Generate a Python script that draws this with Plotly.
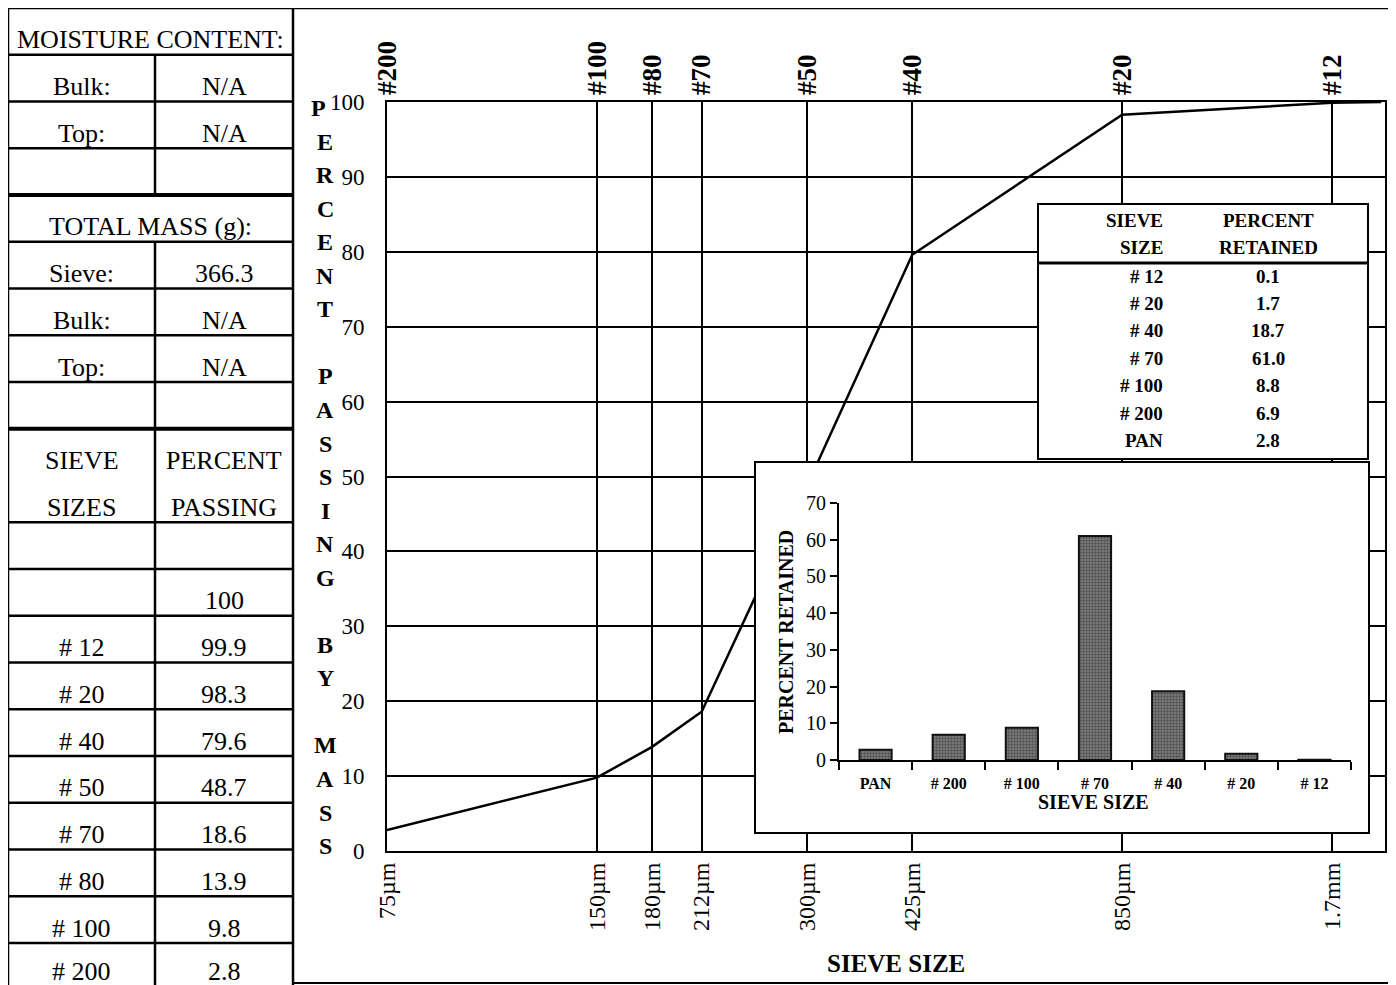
import math
import plotly.graph_objects as go

W, H = 1396, 985
OFF = 8  # the page body margin shifts the graph div by this many pixels


def fx(p):
    return (p - OFF) / W


def fy(p):
    return 1 - (p - OFF) / H


SERIF = "Liberation Serif, Times New Roman, serif"

# ---------------- data ----------------
sieve_sizes_um = [75, 150, 180, 212, 300, 425, 850, 1700]
size_labels = ["75µm", "150µm", "180µm", "212µm", "300µm", "425µm", "850µm", "1.7mm"]
sieve_numbers_top = ["#200", "#100", "#80", "#70", "#50", "#40", "#20", "#12"]
percent_passing_curve = [2.8, 9.8, 13.9, 18.6, 48.7, 79.6, 98.3, 99.9]
upper_size_um = 2000
upper_passing = 100

table_sieves = ["# 12", "# 20", "# 40", "# 50", "# 70", "# 80", "# 100", "# 200"]
table_passing = ["99.9", "98.3", "79.6", "48.7", "18.6", "13.9", "9.8", "2.8"]
total_mass_sieve = "366.3"

retained_sieves = ["# 12", "# 20", "# 40", "# 70", "# 100", "# 200", "PAN"]
percent_retained = [0.1, 1.7, 18.7, 61.0, 8.8, 6.9, 2.8]

y_title = "PERCENT PASSING BY MASS"

# ---------------- figure ----------------
fig = go.Figure()

curve_x = sieve_sizes_um + [upper_size_um]
curve_y = percent_passing_curve + [upper_passing]
fig.add_trace(go.Scatter(x=curve_x, y=curve_y, mode="lines",
                         line=dict(color="black", width=2.5),
                         xaxis="x", yaxis="y", hoverinfo="skip", showlegend=False))
# invisible trace to carry the top (sieve number) axis
fig.add_trace(go.Scatter(x=curve_x, y=curve_y, mode="lines", opacity=0,
                         line=dict(width=0), xaxis="x2", yaxis="y",
                         hoverinfo="skip", showlegend=False))
# empty traces to create the two white inset panels (table box, bar-chart box)
for ax in ("3", "4"):
    fig.add_trace(go.Scatter(x=[None], y=[None], mode="markers", xaxis="x" + ax,
                             yaxis="y" + ax, hoverinfo="skip", showlegend=False))

bar_x = list(reversed(retained_sieves))
bar_y = list(reversed(percent_retained))
fig.add_trace(go.Bar(x=bar_x, y=bar_y, xaxis="x5", yaxis="y5", width=0.44,
                     marker=dict(color="#5e5e5e",
                                 line=dict(color="#111111", width=2),
                                 pattern=dict(shape=".", fgcolor="#222222",
                                              bgcolor="#808080", size=3, solidity=0.5)),
                     hoverinfo="skip", showlegend=False))

xrange_log = [math.log10(75), math.log10(2025)]
black = "black"

box_axis = dict(range=[0, 1], showline=True, mirror=True, linecolor=black, linewidth=2,
                showgrid=False, zeroline=False, showticklabels=False, ticks="",
                fixedrange=True, automargin=False)

fig.update_layout(
    width=W, height=H,
    margin=dict(l=0, r=0, t=0, b=0, pad=0, autoexpand=False),
    paper_bgcolor="white", plot_bgcolor="white", showlegend=False,
    font=dict(family=SERIF, color=black),
    xaxis=dict(domain=[fx(387), fx(1385)], anchor="y", type="log", range=xrange_log,
               tickmode="array", tickvals=sieve_sizes_um, ticktext=size_labels,
               tickangle=-90, showgrid=True, gridcolor=black, gridwidth=1.5,
               showline=True, linecolor=black, linewidth=2, mirror=True, ticks="",
               zeroline=False, automargin=False,
               tickfont=dict(family=SERIF, size=24, color=black)),
    xaxis2=dict(overlaying="x", side="top", anchor="y", type="log", range=xrange_log,
                tickmode="array", tickvals=sieve_sizes_um, ticktext=sieve_numbers_top,
                tickangle=-90, showgrid=False, ticks="", showline=False, zeroline=False,
                automargin=False, ticklabelstandoff=6,
                tickfont=dict(family=SERIF, size=27, color=black, weight="bold")),
    yaxis=dict(domain=[fy(851), fy(102)], anchor="x", range=[0, 100], dtick=10, tick0=0,
               showgrid=True, gridcolor=black, gridwidth=1.5, showline=True,
               linecolor=black, linewidth=2, mirror=True, ticks="", zeroline=False,
               automargin=False, ticklabelstandoff=16,
               tickfont=dict(family=SERIF, size=23, color=black)),
    xaxis3=dict(domain=[fx(1039), fx(1367)], anchor="y3", **box_axis),
    yaxis3=dict(domain=[fy(458), fy(205)], anchor="x3", **box_axis),
    xaxis4=dict(domain=[fx(756), fx(1368)], anchor="y4", **box_axis),
    yaxis4=dict(domain=[fy(832), fy(463)], anchor="x4", **box_axis),
    xaxis5=dict(domain=[fx(839), fx(1351)], anchor="y5", type="category",
                showline=True, linecolor=black, linewidth=2, showgrid=False,
                ticks="outside", tickson="boundaries", ticklen=8, tickwidth=2,
                tickcolor=black, ticklabelstandoff=8, zeroline=False, automargin=False,
                tickfont=dict(family=SERIF, size=16, color=black, weight="bold")),
    yaxis5=dict(domain=[fy(760), fy(503)], anchor="x5", range=[0, 70], dtick=10,
                showline=True, linecolor=black, linewidth=2, showgrid=False,
                ticks="outside", ticklen=7, tickwidth=2, tickcolor=black,
                zeroline=False, automargin=False,
                tickfont=dict(family=SERIF, size=20, color=black)),
)

shapes = []
ann = []


def hline(x0, x1, y, w=2.5):
    shapes.append(dict(type="line", xref="paper", yref="paper", x0=fx(x0), x1=fx(x1),
                       y0=fy(y), y1=fy(y), line=dict(color=black, width=w), layer="above"))


def vline(x, y0, y1, w=2.5):
    shapes.append(dict(type="line", xref="paper", yref="paper", x0=fx(x), x1=fx(x),
                       y0=fy(y0), y1=fy(y1), line=dict(color=black, width=w), layer="above"))


def text(x, y, s, size, bold=False, xanchor="center", angle=0):
    ann.append(dict(x=fx(x), y=fy(y), xref="paper", yref="paper", text=s, showarrow=False,
                    xanchor=xanchor, yanchor="middle", textangle=angle,
                    font=dict(family=SERIF, size=size, color=black,
                              weight="bold" if bold else "normal")))


# ---------------- outer frame of chart ----------------
hline(293, 1394, 8, 2.5)
vline(1394, 8, 983, 2.5)
hline(293, 1394, 983, 2)

# ---------------- left table ----------------
TL, TM, TR = 8, 155, 293
top, rh = 8, 46.75
rows = ([("MOISTURE CONTENT:", None), ("Bulk:", "N/A"), ("Top:", "N/A"), ("", ""),
         ("TOTAL MASS (g):", None), ("Sieve:", total_mass_sieve), ("Bulk:", "N/A"),
         ("Top:", "N/A"), ("", ""), ("SIEVE", "PERCENT"), ("SIZES", "PASSING"),
         ("", ""), ("", "100")]
        + list(zip(table_sieves, table_passing)))
for k in range(len(rows) + 1):
    if k == 10:
        continue
    y = top + k * rh
    if y > H:
        continue
    hline(TL, TR, y, 4 if k in (4, 9) else 2.5)
vline(TL, 8, H)
vline(TR, 8, H)
vline(TM, top + rh, top + 4 * rh)
vline(TM, top + 5 * rh, H)
for k, (a, b) in enumerate(rows):
    frac = 0.6 if k == len(rows) - 1 else 0.68
    yc = top + k * rh + frac * rh
    if b is None:
        text((TL + TR) / 2, yc, a, 26)
    else:
        if a:
            text((TL + TM) / 2, yc, a, 26)
        if b:
            text((TM + TR) / 2, yc, b, 26)

# ---------------- y axis title (stacked letters) ----------------
slot = 33.55
for i, ch in enumerate(y_title):
    if ch == " ":
        continue
    x = 318 if i == 0 else 325
    text(x, 108 + i * slot, ch, 24, bold=True)

# x axis title
text(896, 963, "SIEVE SIZE", 25, bold=True)

# ---------------- inset table ----------------
hline(1039, 1367, 263, 3)
text(1165, 220, "SIEVE", 19, bold=True, xanchor="right")
text(1165, 247, "SIZE", 19, bold=True, xanchor="right")
text(1268, 220, "PERCENT", 19, bold=True)
text(1268, 247, "RETAINED", 19, bold=True)
for i, (s, v) in enumerate(zip(retained_sieves, percent_retained)):
    yc = 276 + i * 27.4
    text(1165, yc, s, 19, bold=True, xanchor="right")
    text(1268, yc, f"{v:.1f}", 19, bold=True)

# ---------------- inset chart titles ----------------
text(1093, 802, "SIEVE SIZE", 20, bold=True)
text(786, 632, "PERCENT RETAINED", 20, bold=True, angle=-90)

fig.update_layout(shapes=shapes, annotations=ann)
fig.write_html("out.html")
